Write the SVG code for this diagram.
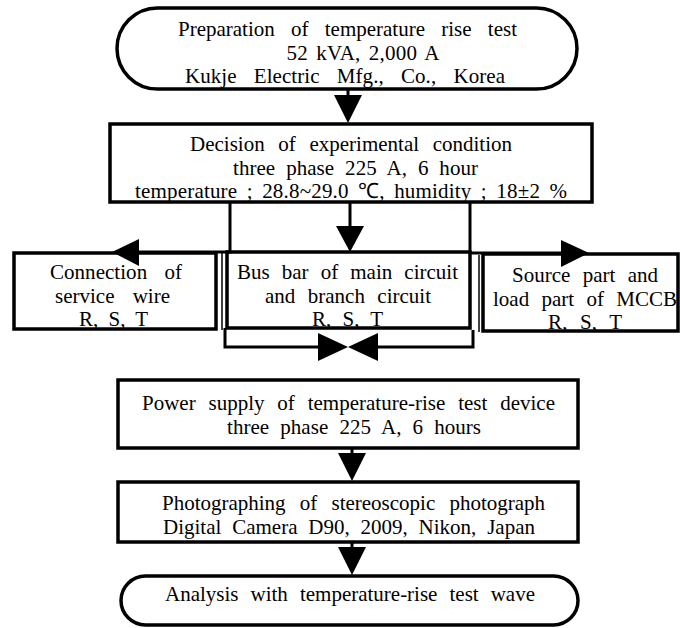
<svg xmlns="http://www.w3.org/2000/svg" width="680" height="628" viewBox="0 0 680 628">
<style>
.box{fill:#fff;stroke:#000;stroke-width:3.5}
.ln{fill:none;stroke:#000;stroke-width:3}
.thin{fill:none;stroke:#000;stroke-width:1.5}
.ah{fill:#000;stroke:none}
.t{font-family:'Liberation Serif','Times New Roman',serif;font-size:21px;fill:#000;text-anchor:middle;word-spacing:6px}
</style>
<rect width="680" height="628" fill="#fff"/>
<g id="prep">
<rect class="box" x="117" y="8" width="460" height="81" rx="40.5"/>
<text class="t" x="347.5" y="36" style="word-spacing:11px" textLength="339" lengthAdjust="spacing">Preparation of temperature rise test</text>
<text class="t" x="363" y="59.5" style="word-spacing:2.7px" textLength="153" lengthAdjust="spacing">52 kVA, 2,000 A</text>
<text class="t" x="345" y="83" style="word-spacing:12px" textLength="320" lengthAdjust="spacing">Kukje Electric Mfg., Co., Korea</text>
</g>
<g id="decision">
<rect class="box" x="110" y="124" width="482" height="78"/>
<text class="t" x="351" y="151" style="word-spacing:8.4px" textLength="322" lengthAdjust="spacing">Decision of experimental condition</text>
<text class="t" x="355.5" y="174.5" style="word-spacing:5.6px" textLength="245" lengthAdjust="spacing">three phase 225 A, 6 hour</text>
<text class="t" x="351" y="198" style="word-spacing:4px" textLength="432" lengthAdjust="spacing">temperature ; 28.8~29.0 ℃, humidity ; 18±2 %</text>
</g>
<g id="connection">
<rect class="box" x="14" y="253" width="202" height="76"/>
<text class="t" x="116" y="279" style="word-spacing:12px" textLength="132" lengthAdjust="spacing">Connection of</text>
<text class="t" x="112.5" y="302.5" style="word-spacing:13px" textLength="115" lengthAdjust="spacing">service wire</text>
<text class="t" x="113.5" y="326" style="word-spacing:4.7px" textLength="69" lengthAdjust="spacing">R, S, T</text>
</g>
<g id="busbar">
<rect class="box" x="227" y="252" width="243" height="76"/>
<text class="t" x="347.5" y="279" style="word-spacing:6.8px" textLength="221" lengthAdjust="spacing">Bus bar of main circuit</text>
<text class="t" x="348" y="302.5" style="word-spacing:7.2px" textLength="166" lengthAdjust="spacing">and branch circuit</text>
<text class="t" x="347.5" y="326" style="word-spacing:5.7px" textLength="71" lengthAdjust="spacing">R, S, T</text>
</g>
<g id="source">
<rect class="box" x="483" y="254" width="195" height="77"/>
<text class="t" x="585" y="282" style="word-spacing:7.1px" textLength="146" lengthAdjust="spacing">Source part and</text>
<text class="t" x="585" y="305.5" style="word-spacing:7px" textLength="184" lengthAdjust="spacing">load part of MCCB</text>
<text class="t" x="585" y="329" style="word-spacing:7px" textLength="74" lengthAdjust="spacing">R, S, T</text>
</g>
<g id="power">
<rect class="box" x="118" y="380" width="460" height="68"/>
<text class="t" x="348.5" y="410" style="word-spacing:7.6px" textLength="413" lengthAdjust="spacing">Power supply of temperature-rise test device</text>
<text class="t" x="354" y="433.5" style="word-spacing:5.8px" textLength="254" lengthAdjust="spacing">three phase 225 A, 6 hours</text>
</g>
<g id="photo">
<rect class="box" x="118" y="482" width="460" height="60"/>
<text class="t" x="353.5" y="510" style="word-spacing:9px" textLength="383" lengthAdjust="spacing">Photographing of stereoscopic photograph</text>
<text class="t" x="349" y="533.5" style="word-spacing:5.6px" textLength="372" lengthAdjust="spacing">Digital Camera D90, 2009, Nikon, Japan</text>
</g>
<g id="analysis">
<rect class="box" x="121" y="576" width="457" height="49" rx="24.5"/>
<text class="t" x="350" y="601" style="word-spacing:6.8px" textLength="370" lengthAdjust="spacing">Analysis with temperature-rise test wave</text>
</g>
<g id="connectors">
<line class="ln" x1="348" y1="89" x2="348" y2="96"/>
<polygon class="ah" points="334,95 362,95 348,123"/>
<polyline class="ln" points="230,202 230,252 138,252"/>
<polygon class="ah" points="112,252 139,239 139,266"/>
<line class="ln" x1="470" y1="202" x2="470" y2="253"/>
<polyline class="ln" points="470,253 562,253"/>
<polygon class="ah" points="589,253 561,240 561,267"/>
<line class="ln" x1="350" y1="203" x2="350" y2="227"/>
<polygon class="ah" points="336,226 364,226 350,252"/>
<line class="thin" x1="222" y1="252" x2="222" y2="330"/>
<line class="thin" x1="479" y1="255" x2="479" y2="332"/>
<polyline class="ln" points="225,328 225,347 318,347"/>
<polygon class="ah" points="348,347 318,333 318,361"/>
<polyline class="ln" points="473,330 473,347 378,347"/>
<polygon class="ah" points="348,347 378,333 378,361"/>
<line class="ln" x1="352" y1="448" x2="352" y2="454"/>
<polygon class="ah" points="338,453 366,453 352,481"/>
<line class="ln" x1="352" y1="542" x2="352" y2="548"/>
<polygon class="ah" points="338,547 366,547 352,575"/>
</g>
</svg>
